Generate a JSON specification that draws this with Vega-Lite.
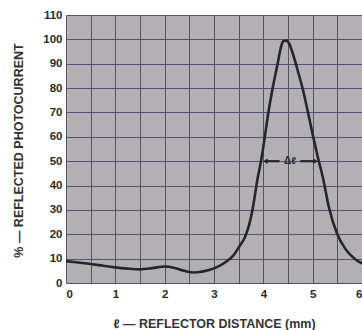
{
  "$schema": "https://vega.github.io/schema/vega-lite/v6.json",
  "autosize": "none",
  "width": 296,
  "height": 268,
  "padding": {"left": 66, "top": 15, "right": 0, "bottom": 47},
  "background": "white",
  "config": {
    "view": {"fill": "#b2b0b5", "stroke": null},
    "font": "Liberation Sans",
    "axis": {
      "labelFont": "Liberation Sans",
      "labelFontSize": 11.5,
      "labelFontWeight": "bold",
      "labelColor": "#2a2a2a",
      "labelOverlap": false,
      "titleFont": "Liberation Sans",
      "titleFontSize": 12.5,
      "titleFontWeight": "bold",
      "titleColor": "#333333",
      "ticks": false,
      "domain": false,
      "grid": true,
      "gridOpacity": 1,
      "gridWidth": 1
    }
  },
  "datasets": {
    "curve": [
      {"x": 0, "y": 9.0}, {"x": 0.25, "y": 8.4}, {"x": 0.5, "y": 7.8}, {"x": 0.75, "y": 7.1},
      {"x": 1.0, "y": 6.4}, {"x": 1.25, "y": 5.9}, {"x": 1.5, "y": 5.6}, {"x": 1.75, "y": 6.1},
      {"x": 2.0, "y": 6.8}, {"x": 2.2, "y": 6.2}, {"x": 2.4, "y": 5.0}, {"x": 2.6, "y": 4.3},
      {"x": 2.71, "y": 4.5}, {"x": 2.9, "y": 5.3}, {"x": 3.11, "y": 7.0}, {"x": 3.25, "y": 8.8},
      {"x": 3.38, "y": 11.0}, {"x": 3.52, "y": 15.2}, {"x": 3.62, "y": 18.5}, {"x": 3.7, "y": 23.0},
      {"x": 3.78, "y": 30.0}, {"x": 3.88, "y": 42.5}, {"x": 3.97, "y": 52.0}, {"x": 4.02, "y": 58.6},
      {"x": 4.1, "y": 69.7}, {"x": 4.18, "y": 79.0}, {"x": 4.29, "y": 90.0}, {"x": 4.36, "y": 97.0},
      {"x": 4.41, "y": 99.3}, {"x": 4.47, "y": 99.5}, {"x": 4.53, "y": 98.0}, {"x": 4.6, "y": 94.0},
      {"x": 4.7, "y": 87.0}, {"x": 4.8, "y": 79.5}, {"x": 4.9, "y": 70.5}, {"x": 5.0, "y": 61.0},
      {"x": 5.1, "y": 52.0}, {"x": 5.21, "y": 43.0}, {"x": 5.33, "y": 31.0}, {"x": 5.5, "y": 20.0},
      {"x": 5.67, "y": 13.8}, {"x": 5.85, "y": 10.0}, {"x": 5.97, "y": 8.4}, {"x": 6.05, "y": 7.8}
    ],
    "shafts": [
      {"x": 4.06, "x2": 4.33, "y": 50},
      {"x": 4.75, "x2": 5.04, "y": 50}
    ],
    "heads": [
      {"x": 4.04, "y": 50, "shape": "triangle-left"},
      {"x": 5.06, "y": 50, "shape": "triangle-right"}
    ],
    "label": [{"x": 4.54, "y": 50, "t": "Δℓ"}]
  },
  "encoding": {
    "x": {
      "field": "x", "type": "quantitative",
      "scale": {"domain": [0, 6], "nice": false},
      "axis": {
        "values": [0, 0.5, 1, 1.5, 2, 2.5, 3, 3.5, 4, 4.5, 5, 5.5, 6],
        "labelExpr": "datum.value % 1 === 0 ? '' + datum.value : ''",
        "gridColor": "#55555a",
        "labelPadding": 5,
        "title": "ℓ — REFLECTOR DISTANCE (mm)",
        "titleY": 40,
        "titleBaseline": "middle"
      }
    },
    "y": {
      "field": "y", "type": "quantitative",
      "scale": {"domain": [0, 110], "nice": false},
      "axis": {
        "values": [0, 10, 20, 30, 40, 50, 60, 70, 80, 90, 100, 110],
        "gridColor": "#5a4e7c",
        "labelPadding": 4,
        "title": "% — REFLECTED PHOTOCURRENT",
        "titleX": -48,
        "titleY": 135,
        "titleAlign": "center",
        "titleBaseline": "middle"
      }
    }
  },
  "layer": [
    {
      "data": {"name": "curve"},
      "mark": {"type": "line", "stroke": "#262626", "strokeWidth": 2.6, "interpolate": "monotone", "clip": true}
    },
    {
      "data": {"name": "shafts"},
      "mark": {"type": "rule", "stroke": "#262626", "strokeWidth": 2.2},
      "encoding": {"x2": {"field": "x2"}}
    },
    {
      "data": {"name": "heads"},
      "mark": {"type": "point", "filled": true, "color": "#262626", "opacity": 1, "size": 30},
      "encoding": {"shape": {"field": "shape", "type": "nominal", "scale": null}}
    },
    {
      "data": {"name": "label"},
      "mark": {"type": "text", "font": "Liberation Sans", "fontSize": 10, "fontWeight": "bold", "color": "#2a2a2a", "baseline": "middle"},
      "encoding": {"text": {"field": "t"}}
    }
  ]
}
